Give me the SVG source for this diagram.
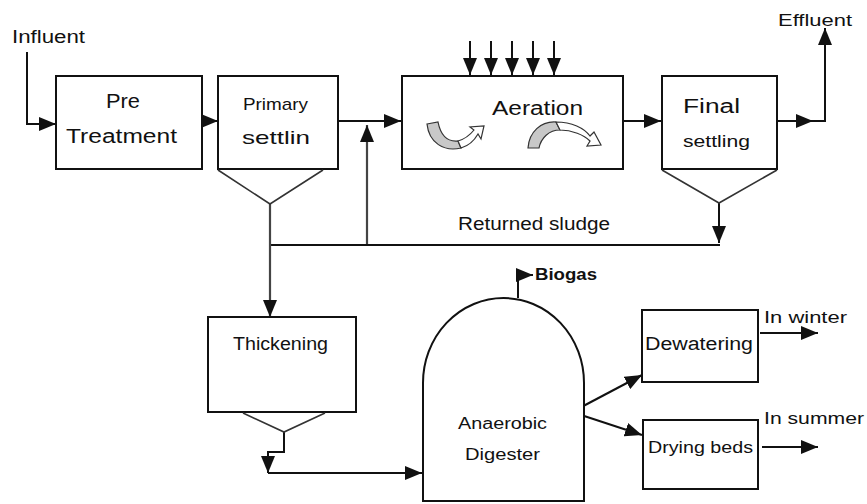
<svg xmlns="http://www.w3.org/2000/svg" width="867" height="504" viewBox="0 0 867 504">
  <style>
    .box { fill: #ffffff; stroke: #111111; stroke-width: 2; }
    .hop { fill: none; stroke: #333333; stroke-width: 1.6; }
    .ln { fill: none; stroke: #111111; stroke-width: 2; }
    .gl { fill: none; stroke: #444444; stroke-width: 2.2; }
    .lbl { font-family: "Liberation Sans", Arial, sans-serif; fill: #111111; }
    .band { fill: #c8c8c8; stroke: #333333; stroke-width: 1.2; }
    .out { fill: #ffffff; stroke: #333333; stroke-width: 1.2; }
  </style>
  <defs>
    <marker id="ah" viewBox="0 0 17 14" refX="17" refY="7" markerWidth="17" markerHeight="14" markerUnits="userSpaceOnUse" orient="auto">
      <path d="M0,0 L17,7 L0,14 Z" fill="#111111"/>
    </marker>
  </defs>

  <rect width="867" height="504" fill="#ffffff"/>

  <!-- connectors -->
  <g id="connectors">
    <path class="ln" d="M27,52 V124 H56" marker-end="url(#ah)"/>
    <path class="ln" d="M184,121 H218" marker-end="url(#ah)"/>
    <path class="ln" d="M323,121 H401" marker-end="url(#ah)"/>
    <path class="gl" d="M367,245 V125" marker-end="url(#ah)"/>
    <path class="ln" d="M270,245 H720"/>
    <path class="gl" d="M270,204 V317" marker-end="url(#ah)"/>
    <path class="ln" d="M719,203 V243" marker-end="url(#ah)"/>
    <path class="ln" d="M623,121 H661" marker-end="url(#ah)"/>
    <path class="ln" d="M777,121 H813" marker-end="url(#ah)"/>
    <path class="ln" d="M812,121 H825 V28" marker-end="url(#ah)"/>
    <path class="ln" d="M470,41 V75" marker-end="url(#ah)"/>
    <path class="ln" d="M491,41 V75" marker-end="url(#ah)"/>
    <path class="ln" d="M512,41 V75" marker-end="url(#ah)"/>
    <path class="ln" d="M533,41 V75" marker-end="url(#ah)"/>
    <path class="ln" d="M554,41 V75" marker-end="url(#ah)"/>
    <path class="ln" d="M284,432 V452 H268 V473" marker-end="url(#ah)"/>
    <path class="ln" d="M268,473 H422" marker-end="url(#ah)"/>
    <path class="ln" d="M518,298 V275 H533" marker-end="url(#ah)"/>
    <path class="ln" d="M572,412 L642,375" marker-end="url(#ah)"/>
    <path class="ln" d="M572,412 L642,435" marker-end="url(#ah)"/>
    <path class="ln" d="M760,333 H818" marker-end="url(#ah)"/>
    <path class="ln" d="M762,447 H818" marker-end="url(#ah)"/>
  </g>

  <text class="lbl" x="12" y="43" font-size="18" textLength="73" lengthAdjust="spacingAndGlyphs">Influent</text>
  <text class="lbl" x="778" y="26" font-size="16" textLength="74" lengthAdjust="spacingAndGlyphs">Effluent</text>
  <text class="lbl" x="458" y="230" font-size="18" textLength="152" lengthAdjust="spacingAndGlyphs">Returned sludge</text>

  <g id="pre-treatment">
    <rect class="box" x="56" y="76" width="146" height="93"/>
    <text class="lbl" x="106" y="108" font-size="21" textLength="34" lengthAdjust="spacingAndGlyphs">Pre</text>
    <text class="lbl" x="66" y="143" font-size="20" textLength="111" lengthAdjust="spacingAndGlyphs">Treatment</text>
  </g>

  <g id="primary-settling">
    <rect class="box" x="218" y="76" width="120" height="93"/>
    <path class="hop" d="M218,170 L270,204 L323,170"/>
    <text class="lbl" x="243" y="110" font-size="17" textLength="65" lengthAdjust="spacingAndGlyphs">Primary</text>
    <text class="lbl" x="242" y="144" font-size="19" textLength="68" lengthAdjust="spacingAndGlyphs">settlin</text>
  </g>

  <g id="aeration">
    <rect class="box" x="402" y="76" width="221" height="93"/>
    <text class="lbl" x="492" y="115" font-size="20" textLength="91" lengthAdjust="spacingAndGlyphs">Aeration</text>
    <!-- swirl arrows: grey band turning into an outlined arrow -->
    <path class="band" d="M427,124 L438,122 C441,137 448,142 458,141 L461,148 C444,152 429,143 427,124 Z"/>
    <path class="out" d="M458,141 C465,139 470,135 474,130 L470,127 L484,126 L481,139 L478,134 C474,141 468,146 461,148 Z"/>
    <path class="band" d="M528,148 C529,132 541,121 556,122 L560,130 C549,130 541,138 539,148 Z"/>
    <path class="out" d="M556,122 C572,122 584,128 590,136 L594,132 L601,145 L587,146 L590,141 C584,135 572,130 560,130 Z"/>
  </g>

  <g id="final-settling">
    <rect class="box" x="662" y="76" width="115" height="93"/>
    <path class="hop" d="M662,170 L719,203 L777,170"/>
    <text class="lbl" x="683" y="113" font-size="20" textLength="57" lengthAdjust="spacingAndGlyphs">Final</text>
    <text class="lbl" x="683" y="147" font-size="17" textLength="67" lengthAdjust="spacingAndGlyphs">settling</text>
  </g>

  <g id="thickening">
    <rect class="box" x="208" y="317" width="148" height="95"/>
    <path class="hop" d="M243,413 L284,432 L325,413"/>
    <text class="lbl" x="233" y="350" font-size="18" textLength="95" lengthAdjust="spacingAndGlyphs">Thickening</text>
  </g>

  <g id="digester">
    <path class="box" d="M423,501 V383 A80.5,85 0 0 1 584,383 V501 Z"/>
    <text class="lbl" x="458" y="429" font-size="16" textLength="89" lengthAdjust="spacingAndGlyphs">Anaerobic</text>
    <text class="lbl" x="465" y="460" font-size="17" textLength="75" lengthAdjust="spacingAndGlyphs">Digester</text>
    <text class="lbl" x="535" y="280" font-size="16" font-weight="bold" textLength="62" lengthAdjust="spacingAndGlyphs">Biogas</text>
  </g>

  <g id="dewatering">
    <rect class="box" x="642" y="310" width="116" height="72"/>
    <text class="lbl" x="645" y="350" font-size="18" textLength="108" lengthAdjust="spacingAndGlyphs">Dewatering</text>
    <text class="lbl" x="764" y="323" font-size="17" textLength="83" lengthAdjust="spacingAndGlyphs">In winter</text>
  </g>

  <g id="drying-beds">
    <rect class="box" x="643" y="420" width="115" height="69"/>
    <text class="lbl" x="648" y="453" font-size="17" textLength="105" lengthAdjust="spacingAndGlyphs">Drying beds</text>
    <text class="lbl" x="764" y="424" font-size="17" textLength="100" lengthAdjust="spacingAndGlyphs">In summer</text>
  </g>
</svg>
